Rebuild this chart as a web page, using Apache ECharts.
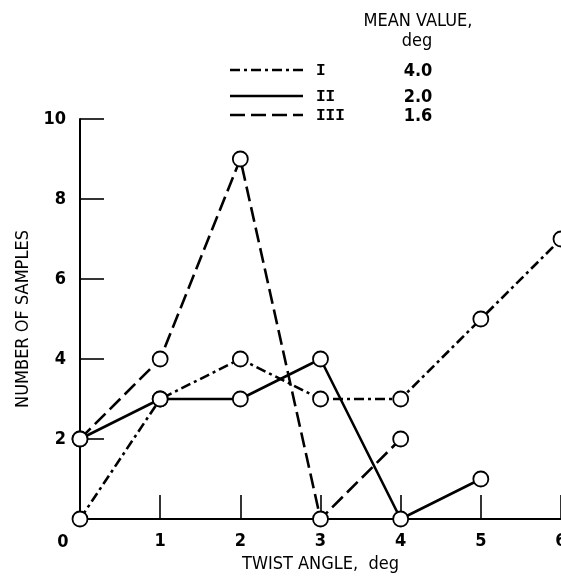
<!DOCTYPE html>
<html>
<head>
<meta charset="utf-8">
<script src="https://cdn.jsdelivr.net/npm/echarts@6/dist/echarts.min.js"></script>
<style>html,body{margin:0;padding:0;background:#fff}#c{width:561px;height:580px}</style>
</head>
<body>
<div id="c"></div>
<script>
// ---- data ----
const twistAngles = [0, 1, 2, 3, 4, 5, 6];
const seriesNames = ['I', 'II', 'III'];
const meanValues = ['4.0', '2.0', '1.6'];
const seriesI = [0, 3, 4, 3, 3, 5, 7];
const seriesII = [2, 3, 3, 4, 0, 1];
const seriesIII = [2, 4, 9, 0, 2];
const xTicks = [0, 1, 2, 3, 4, 5, 6];
const yTicks = [0, 2, 4, 6, 8, 10];
const xTitle = 'TWIST ANGLE,  deg';
const yTitle = 'NUMBER OF SAMPLES';
const legendTitle = ['MEAN VALUE,', 'deg'];

const FONT = "'Liberation Sans Narrow','DejaVu Sans Condensed',sans-serif";
const ROMAN = "'Liberation Mono','DejaVu Sans Mono',monospace";
const FS = 18;
const FW = 'bold';
const dashTypes = [[10, 4, 3, 4], 'solid', [15, 6]];
const allData = [seriesI, seriesII, seriesIII];

const chart = echarts.init(document.getElementById('c'), null, {renderer: 'canvas'});

const series = allData.map((vals, i) => ({
  name: seriesNames[i],
  type: 'line',
  data: vals.map((v, k) => [twistAngles[k], v]),
  symbol: 'circle',
  symbolSize: 15,
  showAllSymbol: true,
  lineStyle: {color: '#000', width: 2.6, type: dashTypes[i]},
  itemStyle: {color: '#fff', borderColor: '#000', borderWidth: 1.8},
  emphasis: {disabled: true},
  z: 3
}));

// legend built as graphic elements
const F = FW + ' ' + FS + 'px ' + FONT;
const legendG = [];
legendG.push({type: 'text', x: 418, y: 21, style: {text: legendTitle[0], font: 'normal ' + FS + 'px ' + FONT, fill: '#000', align: 'center', verticalAlign: 'middle'}});
legendG.push({type: 'text', x: 417, y: 41, style: {text: legendTitle[1], font: 'normal ' + FS + 'px ' + FONT, fill: '#000', align: 'center', verticalAlign: 'middle'}});
const rowsY = [70, 96, 115];
seriesNames.forEach((n, i) => {
  const d = dashTypes[i];
  legendG.push({type: 'line', shape: {x1: 230, y1: rowsY[i], x2: 303, y2: rowsY[i]},
    style: {stroke: '#000', lineWidth: 2.6, lineDash: Array.isArray(d) ? d : null}});
  legendG.push({type: 'text', x: 316, y: rowsY[i] + 1, style: {text: n, font: 'bold 16px ' + ROMAN, fill: '#000', align: 'left', verticalAlign: 'middle'}});
  legendG.push({type: 'text', x: 418, y: rowsY[i] + 1, style: {text: meanValues[i], font: F, fill: '#000', align: 'center', verticalAlign: 'middle'}});
});
// shared origin label
legendG.push({type: 'text', x: 63, y: 542, style: {text: String(xTicks[0]), font: F, fill: '#000', align: 'center', verticalAlign: 'middle'}});

chart.setOption({
  animation: false,
  backgroundColor: '#fff',
  grid: {left: 80, top: 119, width: 481, height: 400, containLabel: false, outerBoundsMode: 'none'},
  xAxis: {
    type: 'value', min: xTicks[0], max: xTicks[xTicks.length - 1], interval: 1,
    name: xTitle, nameLocation: 'middle', nameGap: 36,
    nameTextStyle: {fontFamily: FONT, fontSize: FS, color: '#000'},
    axisLine: {lineStyle: {color: '#000', width: 2}},
    axisTick: {inside: true, length: 24, lineStyle: {color: '#000', width: 1.6}},
    axisLabel: {fontFamily: FONT, fontSize: FS, fontWeight: FW, color: '#000', margin: 13, hideOverlap: false,
      formatter: v => (v === 0 ? '' : String(v))},
    splitLine: {show: false}
  },
  yAxis: {
    type: 'value', min: yTicks[0], max: yTicks[yTicks.length - 1], interval: 2,
    name: yTitle, nameLocation: 'middle', nameGap: 47, nameRotate: 90,
    nameTextStyle: {fontFamily: FONT, fontSize: FS, color: '#000'},
    axisLine: {show: true, lineStyle: {color: '#000', width: 2}},
    axisTick: {show: true, inside: true, length: 24, lineStyle: {color: '#000', width: 1.6}},
    axisLabel: {fontFamily: FONT, fontSize: FS, fontWeight: FW, color: '#000', margin: 14,
      formatter: v => (v === 0 ? '' : String(v))},
    splitLine: {show: false}
  },
  series: series,
  graphic: legendG
});
</script>
</body>
</html>
